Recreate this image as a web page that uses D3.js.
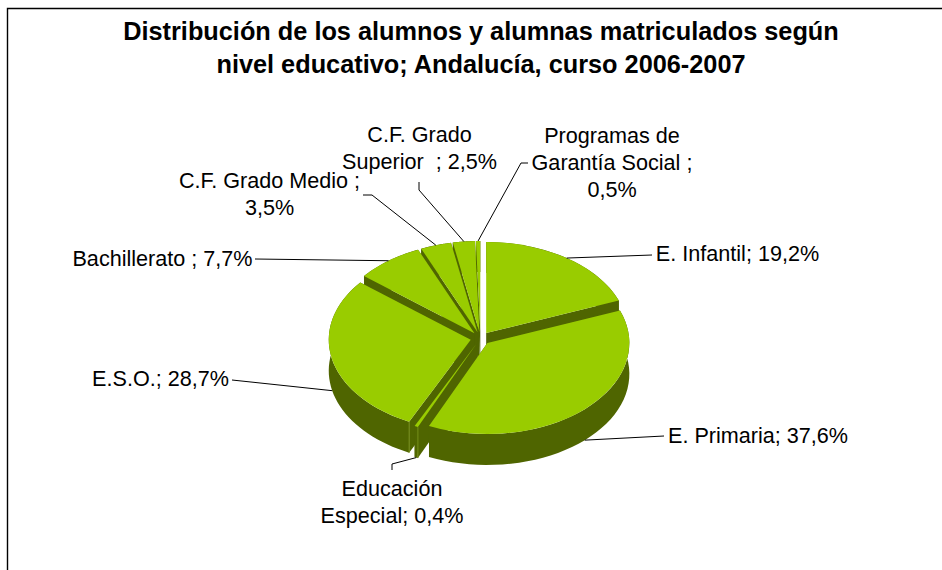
<!DOCTYPE html>
<html>
<head>
<meta charset="utf-8">
<script src="https://cdn.jsdelivr.net/npm/d3@7"></script>
<style>
html, body { margin: 0; padding: 0; background: #fff; }
svg { display: block; }
text { font-family: "Liberation Sans", Arial, sans-serif; fill: #000; }
</style>
</head>
<body>
<svg width="942" height="570"></svg>
<script>
var titleLines = ['Distribución de los alumnos y alumnas matriculados según', 'nivel educativo; Andalucía, curso 2006-2007'];
var categories = ['E. Infantil', 'E. Primaria', 'Educación Especial', 'E.S.O.', 'Bachillerato', 'C.F. Grado Medio', 'C.F. Grado Superior', 'Programas de Garantía Social'];
var values = [19.2, 37.6, 0.4, 28.7, 7.7, 3.5, 2.5, 0.5];
var valueLabels = ['19,2%', '37,6%', '0,4%', '28,7%', '7,7%', '3,5%', '2,5%', '0,5%'];

// label text lines and positions, same order as categories
var labelLines = [
    ['E. Infantil; 19,2%'],
    ['E. Primaria; 37,6%'],
    ['Educación', 'Especial; 0,4%'],
    ['E.S.O.; 28,7%'],
    ['Bachillerato ; 7,7%'],
    ['C.F. Grado Medio ;', '3,5%'],
    ['C.F. Grado', 'Superior  ; 2,5%'],
    ['Programas de', 'Garantía Social ;', '0,5%']
];
var labelPos = [[737.5, 261], [758, 443], [392, 496], [160.5, 386], [162.5, 266], [269.5, 188], [419.5, 142], [612, 143]];
// from the label end of each leader to just before the slice
var leaderEnds = [
    [[652, 255]],
    [[664, 436]],
    [[392, 470], [392, 464]],
    [[232, 380]],
    [[255, 259]],
    [[363, 195], [372, 195]],
    [[419, 182], [419, 190]],
    [[528, 163], [521, 163]]
];
// back slices first, the big front slice last
var paintOrder = [7, 6, 5, 4, 0, 3, 2, 1];

var svg = d3.select('svg');
var cx = 480.5, cy = 338.3;
var rx = 142, ry = 91, depth = 31;
var explodeX = 10, explodeY = 6.4;
var top_color = '#99cc00', side_color = '#4f6500', seam_color = '#768f1a';

svg.append('path')
    .attr('d', 'M7.5,570V8.5H942')
    .attr('fill', 'none').attr('stroke', '#000').attr('stroke-width', 1.4);

svg.selectAll('.title').data(titleLines).enter().append('text')
    .attr('class', 'title')
    .attr('x', 481)
    .attr('y', function (d, i) { return 40 + i * 33; })
    .attr('text-anchor', 'middle')
    .attr('font-size', 25.3)
    .attr('font-weight', 'bold')
    .text(function (d) { return d; });

var slices = d3.pie().sort(null).value(function (d) { return d; })(values);
var arc = d3.arc().innerRadius(0).outerRadius(rx);

slices.forEach(function (s) {
    var mid = (s.startAngle + s.endAngle) / 2;
    s.mid = mid;
    s.ox = cx + explodeX * Math.sin(mid);
    s.oy = cy - explodeY * Math.cos(mid);
});

function px(s, a) { return s.ox + rx * Math.sin(a); }
function py(s, a) { return s.oy - ry * Math.cos(a); }

var line = d3.line();

// side walls: the rim plus the two cut faces
function rimPoints(s) {
    var steps = d3.range(0, 41).map(function (k) { return s.startAngle + (s.endAngle - s.startAngle) * k / 40; });
    var upper = steps.map(function (a) { return [px(s, a), py(s, a)]; });
    var lower = steps.slice().reverse().map(function (a) { return [px(s, a), py(s, a) + depth]; });
    return upper.concat(lower);
}
function facePoints(s, a) {
    return [[s.ox, s.oy], [px(s, a), py(s, a)], [px(s, a), py(s, a) + depth], [s.ox, s.oy + depth]];
}

var g = svg.selectAll('.slice').data(paintOrder).enter().append('g').attr('class', 'slice');

g.each(function (i) {
    var s = slices[i];
    var el = d3.select(this);
    [s.startAngle, s.endAngle].forEach(function (a) {
        el.append('path').attr('d', line(facePoints(s, a)) + 'Z').attr('fill', side_color);
    });
    el.append('path').attr('d', line(rimPoints(s)) + 'Z').attr('fill', side_color);
    // lighter seam where rim meets the cut face on the front left
    if (Math.cos(s.startAngle) < 0 && Math.sin(s.startAngle) < 0) {
        el.append('path')
            .attr('d', line([[px(s, s.startAngle), py(s, s.startAngle)], [px(s, s.startAngle), py(s, s.startAngle) + depth]]))
            .attr('stroke', seam_color).attr('stroke-width', 1).attr('fill', 'none');
    }
    el.append('path')
        .attr('transform', 'translate(' + s.ox + ',' + s.oy + ') scale(1,' + (ry / rx) + ')')
        .attr('d', arc(s))
        .attr('fill', top_color);
});

// leaders run to the middle of each slice's rim
slices.forEach(function (s, i) {
    var ax = px(s, s.mid);
    var ay = py(s, s.mid) + (Math.cos(s.mid) < 0 ? depth : 0);
    svg.append('path')
        .attr('d', line(leaderEnds[i].concat([[ax, ay]])))
        .attr('fill', 'none').attr('stroke', '#000').attr('stroke-width', 1);
});

labelLines.forEach(function (lines, i) {
    lines.forEach(function (t, k) {
        svg.append('text')
            .attr('x', labelPos[i][0])
            .attr('y', labelPos[i][1] + k * 27)
            .attr('text-anchor', 'middle')
            .attr('font-size', 21.6)
            .style('white-space', 'pre')
            .text(t);
    });
});
</script>
</body>
</html>
